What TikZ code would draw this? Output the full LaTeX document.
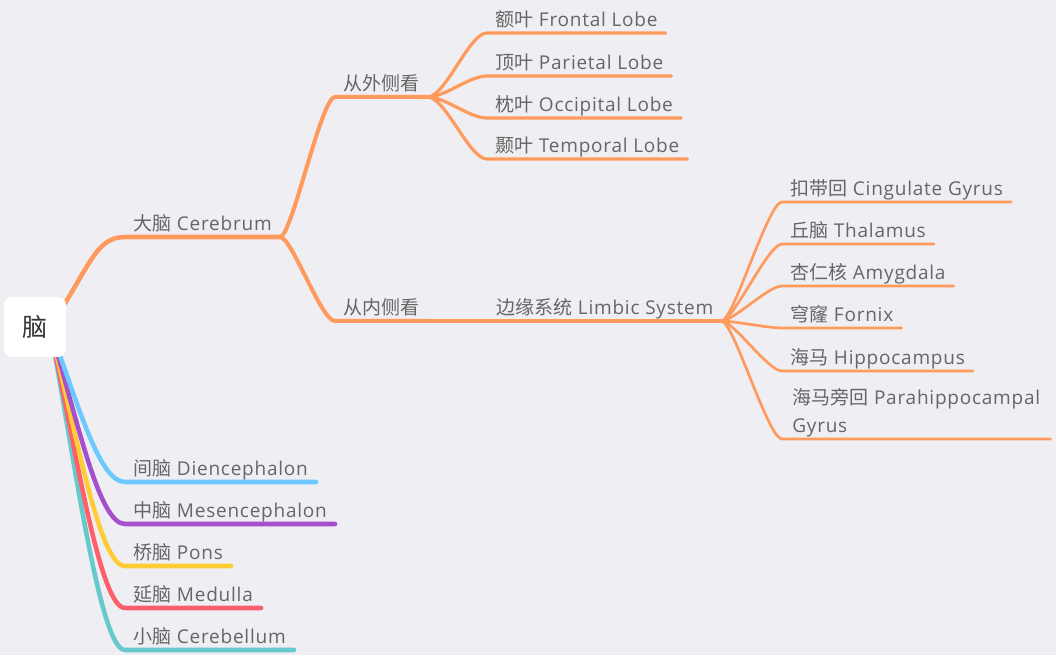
\documentclass[tikz,border=0pt]{standalone}
\usepackage{fontspec}
\usepackage{xcolor}
\usetikzlibrary{calc, positioning}
\setmainfont{Open Sans}[LetterSpace=4]
\newfontfamily\zh{Noto Sans CJK SC}
\definecolor{bgcol}{HTML}{EEEEF3}
\definecolor{txtgray}{HTML}{666666}
\definecolor{brorange}{HTML}{FF9A5C}
\definecolor{brblue}{HTML}{6DC8FF}
\definecolor{brpurple}{HTML}{A64FCC}
\definecolor{bryellow}{HTML}{FFCC33}
\definecolor{brred}{HTML}{FF5F6B}
\definecolor{brteal}{HTML}{66C9CB}

\begin{document}
\begin{tikzpicture}[x=0.75pt, y=-0.75pt]
        \useasboundingbox [fill=bgcol] (0, 0) rectangle (1056, 655);

        \tikzstyle{topic} = [anchor=south west, inner xsep=6pt, inner ysep=1.5pt, text depth=3pt, text=txtgray, font=\fontsize{14.25}{21}\selectfont];
        \tikzstyle{root} = [fill=white, rounded corners=6pt, minimum width=46.5pt, minimum height=45pt, inner sep=0pt, text=black!80, font=\fontsize{18.75}{22}\selectfont];
        \tikzstyle{l1} = [line width=3.4pt, line cap=round, line join=round];
        \tikzstyle{l2} = [line width=3pt, line cap=round, line join=round, brorange];
        \tikzstyle{l3} = [line width=2.4pt, line cap=round, line join=round, brorange];
        \tikzstyle{l4} = [line width=2pt, line cap=round, line join=round, brorange];

        \coordinate (hub) at (50, 327);

        % cerebrum side
        \node [topic] (cer) at (125, 237) {{\zh 大脑} Cerebrum};
        \node [topic] (outer) at (335, 97) {\zh 从外侧看};
        \node [topic] (inner) at (335, 321) {\zh 从内侧看};
        \node [topic] (limbic) at (488, 321) {{\zh 边缘系统} Limbic System};

        \foreach \n/\y/\txt in {frontal/33/{{\zh 额叶} Frontal Lobe}, parietal/76/{{\zh 顶叶} Parietal Lobe}, occipital/118/{{\zh 枕叶} Occipital Lobe}, temporal/159/{{\zh 颞叶} Temporal Lobe}}{
            \node [topic] (\n) at (487, \y) {\txt};
        }

        \foreach \n/\y/\txt in {cingulate/202/{{\zh 扣带回} Cingulate Gyrus}, thalamus/244/{{\zh 丘脑} Thalamus}, amygdala/286/{{\zh 杏仁核} Amygdala}, fornix/328/{{\zh 穹窿} Fornix}, hippo/371/{{\zh 海马} Hippocampus}}{
            \node [topic] (\n) at (782, \y) {\txt};
        }
        \node [topic, minimum width=201pt] (parahippo) at (782, 439) {\begin{tabular}[b]{@{}l@{}}{\zh 海马旁回} Parahippocampal\\Gyrus\end{tabular}\hfill};

        % lower branches
        \foreach \n/\y/\txt in {dien/482/{{\zh 间脑} Diencephalon}, mesen/524/{{\zh 中脑} Mesencephalon}, pons/566/{{\zh 桥脑} Pons}, medulla/608/{{\zh 延脑} Medulla}, cerebellum/650/{{\zh 小脑} Cerebellum}}{
            \node [topic] (\n) at (125, \y) {\txt};
        }

        \draw [l1, brorange] (hub) .. controls +(40, -60) and +(-30, 0) .. (cer.south west) -- (cer.south east);

        \foreach \n in {outer, inner}{
            \draw [l2] (cer.south east) .. controls +(12, 0) and +(-14, 0) .. (\n.south west) -- (\n.south east);
        }

        \foreach \n in {frontal, parietal, occipital, temporal}{
            \draw [l3] (outer.south east) .. controls +(18, 0) and +(-18, 0) .. (\n.south west) -- (\n.south east);
        }

        \draw [l3] (inner.south east) -- (limbic.south west) -- (limbic.south east);

        \foreach \n in {cingulate, thalamus, amygdala, fornix, hippo, parahippo}{
            \draw [l4] (limbic.south east) .. controls +(12, 0) and +(-14, 0) .. (\n.south west) -- (\n.south east);
        }

        \foreach \n/\col/\dx/\dy in {cerebellum/brteal/25/135, medulla/brred/26/125, pons/bryellow/28/115, mesen/brpurple/30/105, dien/brblue/30/84}{
            \draw [l1, \col] (hub) .. controls +(\dx, \dy) and +(-25, 0) .. (\n.south west) -- (\n.south east);
        }

        \node [root] (brain) at ($(hub) + (-15, 0)$) {\zh 脑};
    \end{tikzpicture}
\end{document}
